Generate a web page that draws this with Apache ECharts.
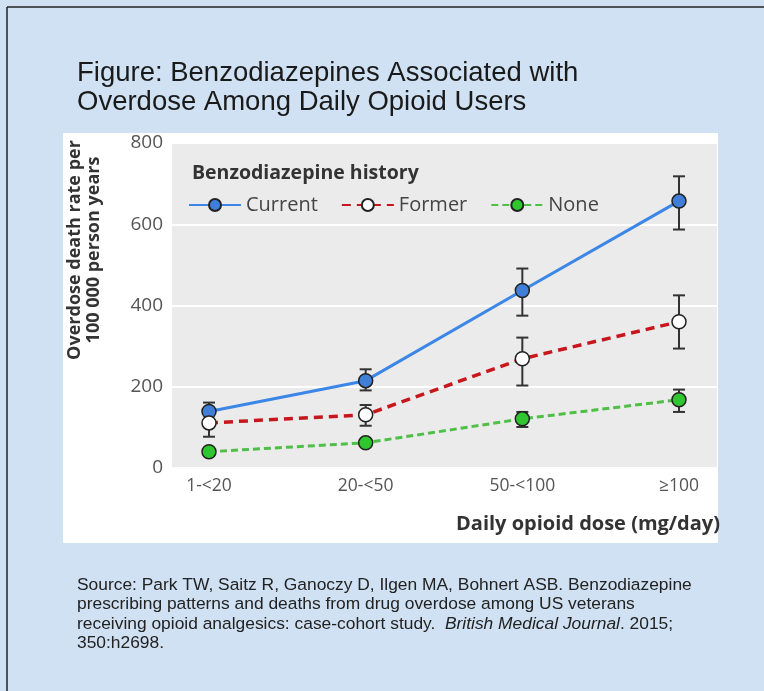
<!DOCTYPE html>
<html>
<head>
<meta charset="utf-8">
<script src="https://cdn.jsdelivr.net/npm/echarts@6/dist/echarts.min.js"></script>
<style>
  html, body { margin: 0; padding: 0; background: #cfe1f2; }
  #chart { width: 764px; height: 691px; }
</style>
</head>
<body>
<div id="chart"></div>
<script>
// dose groups on the x axis
const doses = ['1-<20', '20-<50', '50-<100', '≥100']
const yTicks = [0, 200, 400, 600, 800]

// death rate per 100 000 person years
const current = [139, 215, 437, 657]
const currentLow = [118, 191, 375, 587]
const currentHigh = [161, 243, 491, 718]

const former = [111, 131, 269, 360]
const formerLow = [77, 104, 203, 294]
const formerHigh = [136, 155, 321, 425]

const none = [40, 62, 121, 168]
const noneLow = [33, 55, 101, 138]
const noneHigh = [47, 70, 138, 193]

const chartFont = 'Open Sans'

const errRows = (lo, hi) => lo.map((v, i) => [i, v, hi[i]])

const errorBars = (name, lo, hi) => ({
  name: name + ' CI',
  type: 'custom',
  xAxisIndex: 1,
  yAxisIndex: 1,
  z: 1,
  silent: true,
  data: errRows(lo, hi),
  renderItem: (params, api) => {
    const x = api.value(0)
    const top = api.coord([x, api.value(2)])
    const bot = api.coord([x, api.value(1)])
    const w = 6
    const st = { stroke: '#333', lineWidth: 2 }
    return {
      type: 'group',
      children: [
        { type: 'line', shape: { x1: top[0], y1: top[1], x2: bot[0], y2: bot[1] }, style: st },
        { type: 'line', shape: { x1: top[0] - w, y1: top[1], x2: top[0] + w, y2: top[1] }, style: st },
        { type: 'line', shape: { x1: bot[0] - w, y1: bot[1], x2: bot[0] + w, y2: bot[1] }, style: st }
      ]
    }
  }
})

const lineSeries = (name, data, color, fill, type, width) => ({
  name: name,
  type: 'line',
  xAxisIndex: 1,
  yAxisIndex: 1,
  z: 3,
  data: data,
  symbol: 'circle',
  symbolSize: 14,
  lineStyle: { color: color, width: width, type: type },
  itemStyle: { color: fill, borderColor: '#222', borderWidth: 1.5 },
  emphasis: { disabled: true }
})

const chart = echarts.init(document.getElementById('chart'))

chart.setOption({
  backgroundColor: '#cfe1f2',
  animation: false,
  textStyle: { fontFamily: chartFont },
  title: [
    {
      text: 'Figure: Benzodiazepines Associated with\nOverdose Among Daily Opioid Users',
      left: 72, top: 54,
      textStyle: { fontFamily: 'Liberation Sans', fontSize: 27.5, fontWeight: 'normal', color: '#1a1a1a', lineHeight: 29 }
    },
    {
      text: 'Benzodiazepine history',
      left: 187, top: 158,
      textStyle: { fontFamily: chartFont, fontSize: 19.5, fontWeight: 'bold', color: '#333' }
    }
  ],
  graphic: [
    { type: 'rect', shape: { x: 63, y: 133, width: 655, height: 410 }, style: { fill: '#fff' }, z: -10 },
    { type: 'line', shape: { x1: 7, y1: 7, x2: 764, y2: 7 }, style: { stroke: '#222', lineWidth: 1.5 } },
    { type: 'line', shape: { x1: 7, y1: 7, x2: 7, y2: 691 }, style: { stroke: '#222', lineWidth: 1.5 } },
    {
      type: 'text', x: 84, y: 250, rotation: Math.PI / 2,
      style: {
        text: 'Overdose death rate per\n100 000 person years',
        font: 'bold 18px "Open Sans"', fill: '#333', lineHeight: 19,
        align: 'center', verticalAlign: 'middle'
      }
    },
    {
      type: 'text', right: 44, top: 514,
      style: { text: 'Daily opioid dose (mg/day)', font: 'bold 20px "Open Sans"', fill: '#333' }
    },
    {
      type: 'text', left: 77, top: 575,
      style: {
        text: 'Source: Park TW, Saitz R, Ganoczy D, Ilgen MA, Bohnert ASB. Benzodiazepine\n' +
              'prescribing patterns and deaths from drug overdose among US veterans\n' +
              'receiving opioid analgesics: case-cohort study.  {i|British Medical Journal}. 2015;\n' +
              '350:h2698.',
        font: '17.4px "Liberation Sans"',
        fill: '#222',
        lineHeight: 19.5,
        rich: { i: { fontStyle: 'italic', fontFamily: 'Liberation Sans', fontSize: 17.4, fill: '#222', lineHeight: 19.5 } }
      }
    }
  ],
  legend: {
    data: ['Current', 'Former', 'None'],
    left: 183, top: 190,
    itemWidth: 52, itemHeight: 15, itemGap: 23,
    textStyle: { fontFamily: chartFont, fontSize: 20, color: '#444' }
  },
  grid: [
    { left: 172, right: 47, top: 143, bottom: 223, show: true, backgroundColor: '#ebebeb', borderWidth: 0 },
    { left: 209, right: 85, top: 143, bottom: 223 }
  ],
  xAxis: [
    { type: 'category', gridIndex: 0, show: false },
    {
      type: 'category', gridIndex: 1, data: doses, boundaryGap: false,
      axisLine: { show: false },
      axisTick: { show: false },
      axisLabel: { fontSize: 17.5, color: '#555', margin: 9 }
    }
  ],
  yAxis: [
    {
      type: 'value', gridIndex: 0, min: yTicks[0], max: yTicks[yTicks.length - 1], interval: 200,
      axisLine: { show: false }, axisTick: { show: false },
      axisLabel: { fontSize: 19, color: '#555', margin: 9 },
      splitLine: { lineStyle: { color: '#fff', width: 2 } }
    },
    { type: 'value', gridIndex: 1, min: 0, max: 800, show: false }
  ],
  series: [
    errorBars('Current', currentLow, currentHigh),
    errorBars('Former', formerLow, formerHigh),
    errorBars('None', noneLow, noneHigh),
    lineSeries('Current', current, '#3b86e6', '#3f7fd8', 'solid', 3),
    lineSeries('Former', former, '#c8161d', '#ffffff', [9, 6], 3.5),
    lineSeries('None', none, '#4fbf48', '#2fc62f', [7, 4], 3)
  ]
})
</script>
</body>
</html>
